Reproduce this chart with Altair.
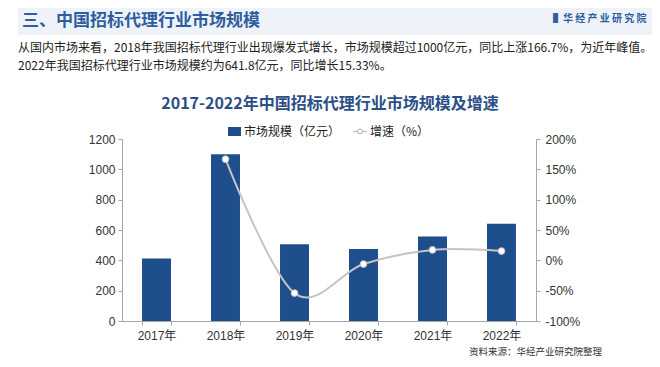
import altair as alt
import pandas as pd

years = ["2017年", "2018年", "2019年", "2020年", "2021年", "2022年"]
market = [412, 1099, 506, 475, 556.5, 641.8]
growth_years = ["2018年", "2019年", "2020年", "2021年", "2022年"]
growth = [166.7, -54.0, -6.1, 17.2, 15.33]

left_ticks = [0, 200, 400, 600, 800, 1000, 1200]
right_ticks = [-100, -50, 0, 50, 100, 150, 200]

header = "三、中国招标代理行业市场规模"
logo = "▌华 经 产 业 研 究 院"
para1 = "从国内市场来看，2018年我国招标代理行业出现爆发式增长，市场规模超过1000亿元，同比上涨166.7%，为近年峰值。"
para2 = "2022年我国招标代理行业市场规模约为641.8亿元，同比增长15.33%。"
title = "2017-2022年中国招标代理行业市场规模及增速"
legend_bar = "市场规模（亿元）"
legend_line = "增速（%）"
source = "资料来源：华经产业研究院整理"

FONT = "Liberation Sans, Noto Sans CJK SC"
CJK = "Noto Sans CJK SC"
BLUE = "#1f4e8c"
W, H = 414, 182

bars_df = pd.DataFrame({"year": years, "value": market})
line_df = pd.DataFrame({"year": growth_years, "g": growth})
one = pd.DataFrame({"a": [0]})

xenc = alt.X("year:N", sort=years, title=None,
             scale=alt.Scale(paddingInner=0.58, paddingOuter=0.29),
             axis=alt.Axis(labelAngle=0, tickBand="extent", domainColor="#a6a6a6",
                           tickColor="#a6a6a6", tickSize=4, labelFont=FONT,
                           labelFontSize=12, labelColor="#333333", labelPadding=5))

bars = alt.Chart(bars_df).mark_bar(color=BLUE).encode(
    x=xenc,
    y=alt.Y("value:Q", title=None,
            scale=alt.Scale(domain=[0, 1200], nice=False),
            axis=alt.Axis(values=left_ticks, format="d", grid=False, domainColor="#a6a6a6",
                          tickColor="#a6a6a6", tickSize=4, labelFont=FONT,
                          labelFontSize=12, labelColor="#333333", labelPadding=3)),
)

line = alt.Chart(line_df).mark_line(color="#c4c4c4", strokeWidth=2,
                                    interpolate="cardinal", tension=0).encode(
    x=alt.X("year:N", sort=years),
    y=alt.Y("g:Q", title=None,
            scale=alt.Scale(domain=[-100, 200], nice=False),
            axis=alt.Axis(orient="right", values=right_ticks, grid=False,
                          labelExpr="datum.value + '%'", domainColor="#a6a6a6",
                          tickColor="#a6a6a6", tickSize=4, labelFont=FONT,
                          labelFontSize=12, labelColor="#333333", labelPadding=5)),
)
pts = alt.Chart(line_df).mark_point(filled=True, fill="white", stroke="#c4c4c4",
                                    strokeWidth=1, size=45, opacity=1).encode(
    x=alt.X("year:N", sort=years),
    y=alt.Y("g:Q", scale=alt.Scale(domain=[-100, 200], nice=False), axis=None),
)

def txt(s, x, y, size, color="#222222", bold=False, align="left", font=CJK, **kw):
    return alt.Chart(one).mark_text(text=s, fontSize=size, color=color, font=font,
                                    fontWeight="bold" if bold else "normal",
                                    align=align, baseline="middle", **kw).encode(
        x=alt.value(x), y=alt.value(y))

band = alt.Chart(one).mark_rect(color="#eef3f9").encode(
    x=alt.value(-104), x2=alt.value(540), y=alt.value(-131), y2=alt.value(-104))

leg_rect = alt.Chart(one).mark_rect(color=BLUE).encode(
    x=alt.value(106), x2=alt.value(119), y=alt.value(-12), y2=alt.value(-3))
leg_line = alt.Chart(one).mark_rule(color="#c4c4c4", strokeWidth=1.5).encode(
    x=alt.value(231), x2=alt.value(245), y=alt.value(-7.5))
leg_pt = alt.Chart(one).mark_point(filled=True, fill="white", stroke="#b0b0b0",
                                   strokeWidth=1, size=22, opacity=1).encode(
    x=alt.value(238), y=alt.value(-7.5))

layers = [
    band,
    txt(header, -100, -118, 17, color="#2f5d9e", bold=True),
    txt(logo, 431, -120, 10, color="#2f5d9e", bold=True),
    txt(para1, -104, -91, 12),
    txt(para2, -104, -73, 12),
    txt(title, 208, -35, 16, color="#2b4f86", bold=True, align="center"),
    leg_rect, txt(legend_bar, 122, -7.5, 12, color="#222222"),
    leg_line, leg_pt, txt(legend_line, 248, -7.5, 12, color="#222222"),
    txt(source, 480, 213, 9.5, color="#333333", align="right"),
]

chart = alt.layer(bars, line, pts, *layers).resolve_scale(y="independent").properties(
    width=W, height=H,
    autosize=alt.AutoSizeParams(type="none"),
    padding={"left": 114, "top": 131, "right": 116, "bottom": 38},
    background="white",
).configure_view(stroke=None)

chart.save("out.html", embed_options={"renderer": "svg", "actions": False})
